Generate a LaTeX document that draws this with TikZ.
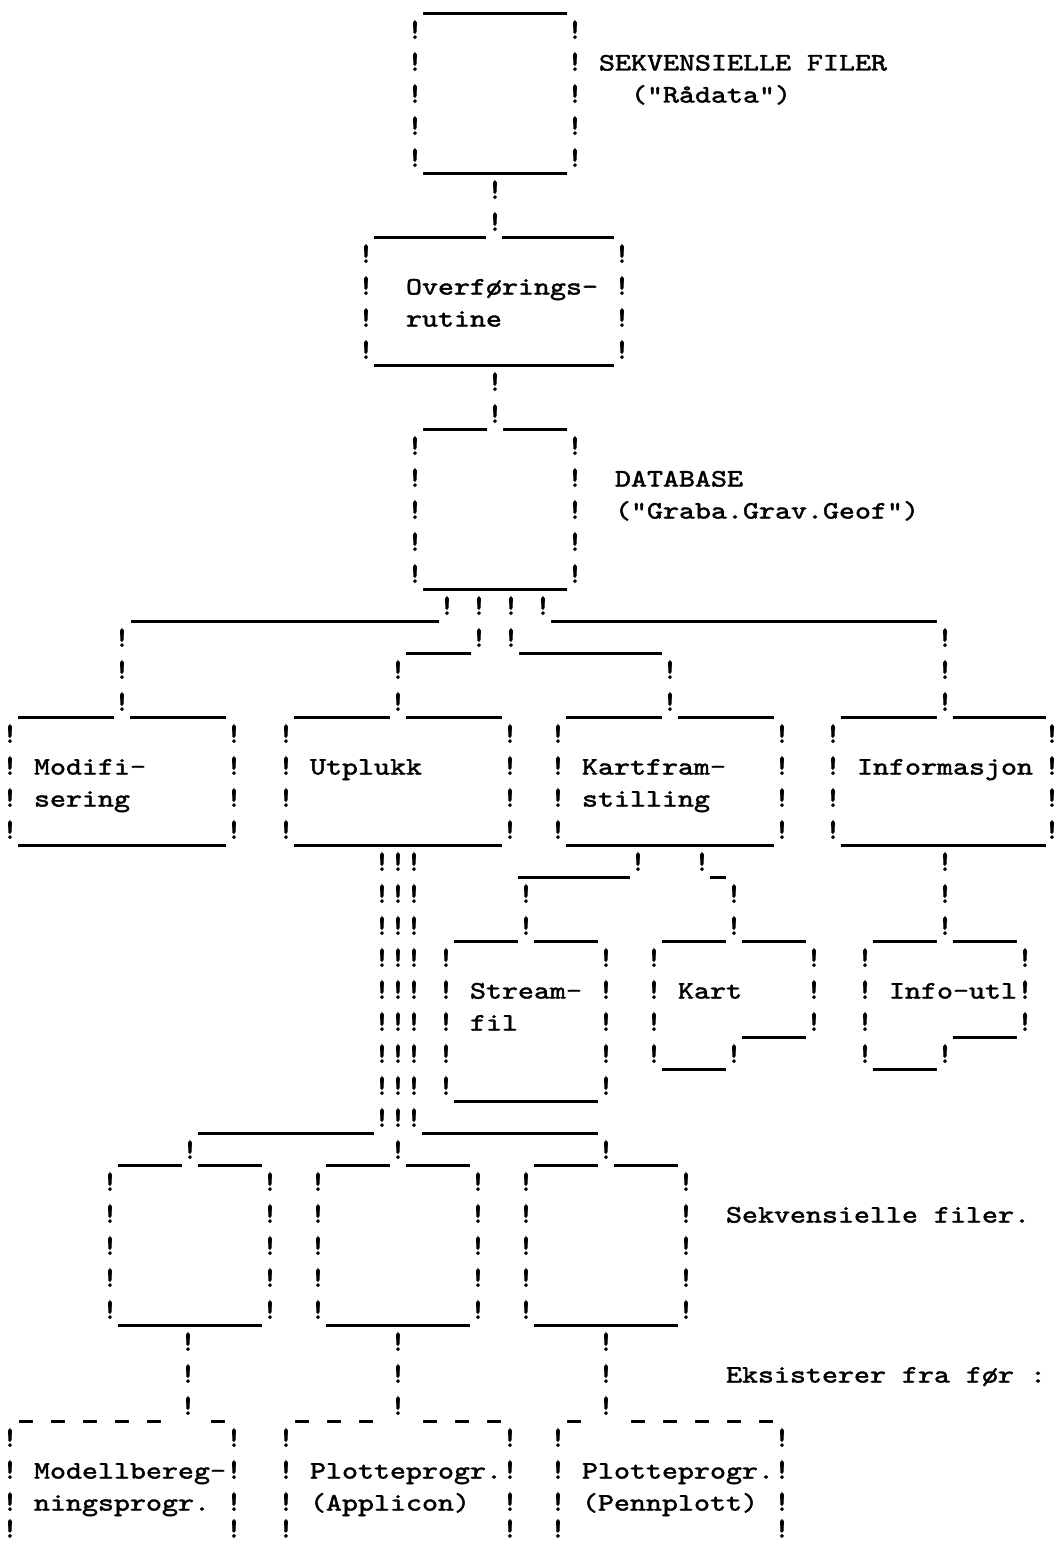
\documentclass[tikz,border=0pt]{standalone}
\usepackage{fontspec}
\newfontfamily\tw{lmmono10-regular.otf}[FakeStretch=1.219,FakeBold=1.8]
\newfontfamily\twb{lmmono10-regular.otf}[FakeBold=3]
\newcommand\twf{\tw\fontsize{25pt}{30pt}\selectfont}
\newcommand\twbf{\twb\fontsize{28.5pt}{30pt}\selectfont}
\newcounter{gc}
\begin{document}
\begin{tikzpicture}[x=1pt,y=-1pt,
  bang/.style={anchor=base,inner sep=0pt,outer sep=0pt,font=\twbf},
  lbl/.style={anchor=base west,inner sep=0pt,outer sep=0pt,font=\twf},
  ul/.style={line width=2.5pt,line cap=butt,black}]
\newcommand\bg[2]{\stepcounter{gc}\node[bang] (g\arabic{gc}) at (#1,{38.5+32*#2}) {\makebox[5pt]{!}};}
\newcommand\bgs[2]{\foreach \r in {#2} {\bg{#1}{\r}}}
\newcommand\ul[3]{\draw[ul] (#1,{45.5+32*#3}) -- (#2,{45.5+32*#3});}
\newcommand\dsh[2]{\draw[ul] ({#1-7},{45.5+32*#2}) -- ({#1+7},{45.5+32*#2});}
\newcommand\lb[4]{\node[lbl] (#1) at (#2,{38.5+32*#3}) {#4};}
\fill[white] (0,0) rectangle (1060,1544);
\useasboundingbox (0,0) rectangle (1060,1544);
% ---- top box: sequential files
\ul{423}{567}{-1}
\bgs{415}{0,1,2,3,4}
\bgs{575}{0,1,2,3,4}
\ul{423}{567}{4}
\lb{sekv}{599}{1}{SEKVENSIELLE FILER}
\lb{radata}{631}{2}{("Rådata")}
\bgs{495}{5,6}
\ul{374}{486}{6}\ul{502}{614}{6}
% ---- transfer routine
\bgs{366}{7,8,9,10}
\bgs{622}{7,8,9,10}
\lb{overf}{406}{8}{Overførings-}
\lb{rutine}{406}{9}{rutine}
\ul{374}{614}{10}
\bgs{495}{11,12}
\ul{423}{487}{12}\ul{503}{567}{12}
% ---- database
\bgs{415}{13,14,15,16,17}
\bgs{575}{13,14,15,16,17}
\lb{dbase}{615}{14}{DATABASE}
\lb{graba}{615}{15}{("Graba.Grav.Geof")}
\ul{423}{567}{17}
% ---- distribution
\bg{447}{18}\bg{479}{18}\bg{511}{18}\bg{543}{18}
\ul{131}{439}{18}\ul{551}{937}{18}
\bg{122}{19}\bg{479}{19}\bg{511}{19}\bg{945}{19}
\ul{406}{471}{19}\ul{519}{662}{19}
\bg{122}{20}\bg{398}{20}\bg{670}{20}\bg{945}{20}
\bg{122}{21}\bg{398}{21}\bg{670}{21}\bg{945}{21}
\ul{18}{114}{21}\ul{130}{226}{21}
\ul{294}{390}{21}\ul{406}{502}{21}
\ul{566}{662}{21}\ul{678}{774}{21}
\ul{841}{937}{21}\ul{953}{1046}{21}
% ---- four boxes
\foreach \xx in {10,234,286,510,558,782,833,1052} {\bgs{\xx}{22,23,24,25}}
\lb{modifi}{34}{23}{Modifi-}
\lb{sering}{34}{24}{sering}
\lb{utplukk}{310}{23}{Utplukk}
\lb{kartf}{582}{23}{Kartfram-}
\lb{still}{582}{24}{stilling}
\lb{inform}{857}{23}{Informasjon}
\ul{18}{226}{25}\ul{294}{502}{25}\ul{566}{774}{25}\ul{841}{1046}{25}
% ---- triple line from Utplukk
\foreach \xx in {382,398,414} {\bgs{\xx}{26,27,28,29,30,31,32,33,34}}
% ---- Kartframstilling outputs
\ul{518}{630}{26}\bg{638}{26}\bg{702}{26}\ul{710}{726}{26}\bg{945}{26}
\bg{526}{27}\bg{734}{27}\bg{945}{27}
\bg{526}{28}\bg{734}{28}\bg{945}{28}
\ul{454}{518}{28}\ul{534}{598}{28}
\ul{662}{726}{28}\ul{742}{806}{28}
\ul{873}{937}{28}\ul{953}{1017}{28}
% Stream-fil
\bgs{446}{29,30,31,32,33}
\bgs{606}{29,30,31,32,33}
\lb{stream}{470}{30}{Stream-}
\lb{fil}{470}{31}{fil}
\ul{454}{598}{33}
% Kart
\bgs{654}{29,30,31,32}
\bgs{814}{29,30,31}
\bg{734}{32}
\lb{kart}{678}{30}{Kart}
\ul{742}{806}{31}\ul{662}{726}{32}
% Info-utl
\bgs{865}{29,30,31,32}
\bgs{1025}{29,30,31}
\bg{945}{32}
\lb{infoutl}{889}{30}{Info-utl}
\ul{953}{1017}{31}\ul{873}{937}{32}
% ---- split to sequential files
\ul{198}{374}{34}\ul{422}{598}{34}
\bg{190}{35}\bg{398}{35}\bg{606}{35}
\ul{118}{182}{35}\ul{198}{262}{35}
\ul{326}{390}{35}\ul{406}{470}{35}
\ul{534}{598}{35}\ul{614}{678}{35}
\foreach \xx in {110,270,318,478,526,686} {\bgs{\xx}{36,37,38,39,40}}
\ul{118}{262}{40}\ul{326}{470}{40}\ul{534}{678}{40}
\lb{sekvfil}{726}{37}{Sekvensielle filer.}
\bgs{188}{41,42,43}
\bgs{398}{41,42,43}
\bgs{606}{41,42,43}
\lb{eksist}{726}{42}{Eksisterer fra før :}
% dashed tops of existing programs
\foreach \xx in {26,58,90,122,154,218,302,334,366,430,462,494,574,638,670,702,734,766} {\dsh{\xx}{43}}
\foreach \xx in {10,234,286,510,558,782} {\bgs{\xx}{44,45,46,46.84}}
\lb{modell}{34}{45}{Modellbereg-}
\lb{ningsp}{34}{46}{ningsprogr.}
\lb{plotA}{310}{45}{Plotteprogr.}
\lb{applic}{310}{46}{(Applicon)}
\lb{plotB}{582}{45}{Plotteprogr.}
\lb{pennp}{582}{46}{(Pennplott)}
\end{tikzpicture}
\end{document}
